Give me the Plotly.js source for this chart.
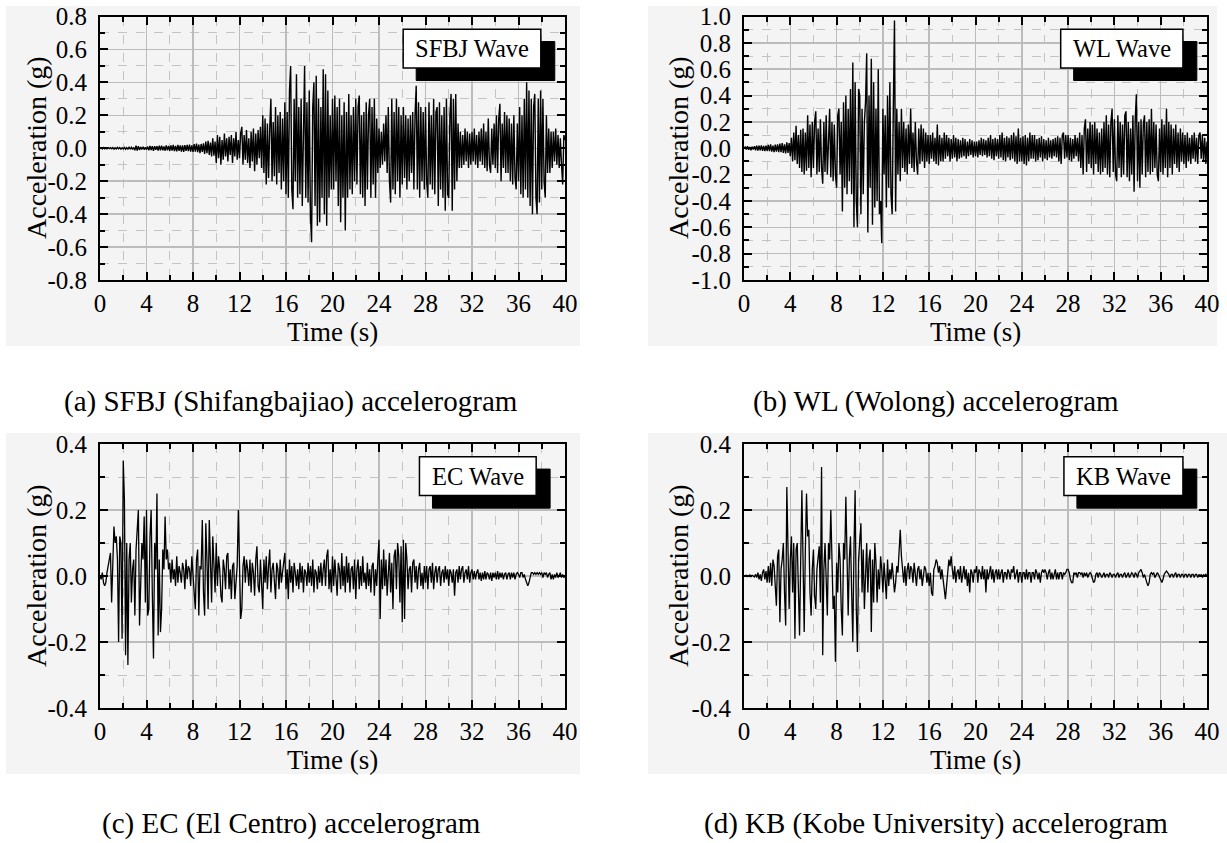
<!DOCTYPE html>
<html>
<head>
<meta charset="utf-8">
<script src="https://cdn.plot.ly/plotly-3.0.1.min.js"></script>
<style>html,body{margin:0;padding:0;background:#fff;}#chart{width:1227px;height:843px;}</style>
</head>
<body>
<div id="chart"></div>
<script>
// Sampling interval of the read-off accelerograms (s)
const dt = 0.1;

// (a) SFBJ (Shifangbajiao) acceleration, g — one row per second
const sfbj = [
0,.003,-.004,.004,-.003,.002,-.004,.003,-.002,.004,
-.003,.004,-.005,.003,-.004,.005,-.003,.004,-.005,.003,
-.004,.005,-.006,.004,-.005,.006,-.004,.006,-.007,.005,
-.012,.015,-.014,.012,-.01,.008,-.007,.009,-.008,.006,
-.008,.01,-.012,.014,-.011,.012,-.015,.013,-.01,.012,
-.014,.016,-.012,.015,-.013,.011,-.015,.017,-.013,.014,
-.016,.018,-.015,.02,-.017,.015,-.019,.021,-.016,.018,
-.02,.017,-.022,.019,-.016,.02,-.018,.022,-.02,.017,
-.022,.025,-.02,.028,-.024,.022,-.03,.026,-.022,.03,
-.035,.04,-.03,.045,-.04,.035,-.05,.06,-.045,.04,
-.09,.08,-.06,.07,-.1,.05,-.07,.09,-.05,.06,
-.08,.07,-.04,.08,-.09,.06,-.05,.1,-.07,.05,
-.06,.09,.13,-.1,.08,-.07,.11,-.09,.06,-.12,
.1,-.08,.12,-.14,.09,-.1,.11,-.06,.13,-.12,
.2,-.15,.18,-.22,.15,-.18,.12,.3,-.2,.16,
-.17,.25,-.22,.2,-.15,.22,-.25,.18,-.2,.28,
-.28,.22,-.3,.35,.5,-.25,-.37,.3,-.2,.45,
-.3,.25,-.28,.3,-.35,.22,.5,-.3,.28,-.33,
.35,-.4,-.57,.25,.4,-.35,.44,-.47,.3,-.45,
.25,-.3,.48,-.4,.45,-.47,.35,-.3,.2,-.25,
.3,-.25,.32,-.2,.25,-.35,.3,-.45,.2,-.3,
.28,-.5,.22,-.3,.33,-.25,.2,-.28,.25,-.2,
.3,-.22,.25,.32,-.28,.2,-.3,.22,-.35,.28,
-.25,.2,.3,-.3,.25,-.22,.3,-.3,.18,-.15,
.12,-.12,.1,-.1,.15,-.08,.2,-.15,.25,-.2,
-.33,.3,-.25,.22,-.28,.3,-.2,.25,-.3,.2,
-.22,.25,-.18,.2,-.25,.18,-.2,.2,-.15,.22,
-.25,.2,.38,-.25,.28,-.3,.25,-.2,.22,-.25,
.25,-.2,-.3,.28,-.22,.2,-.25,.3,-.28,.22,
.25,-.35,.28,-.25,.2,-.3,.25,-.38,.3,-.28,
-.3,.2,.33,-.38,.3,-.25,.33,-.2,.15,-.12,
.1,-.12,.08,-.1,.12,-.08,.1,-.12,.09,-.1,
.1,-.08,.12,-.1,.08,-.12,.1,-.08,.12,-.1,
.15,-.12,.1,-.14,.18,-.1,-.15,.12,-.1,.15,
-.12,.2,-.15,.18,.27,-.2,.15,-.12,.22,-.15,
.2,-.15,.18,-.2,.15,-.22,.2,-.18,-.25,.15,
-.2,.25,-.28,.2,-.3,.3,-.25,.4,-.3,.35,
-.35,.3,-.4,.25,.33,-.3,-.4,.3,-.33,.35,
-.25,.3,-.2,-.3,.2,-.15,.12,-.15,.1,-.12,
.1,-.08,.12,-.1,.08,-.12,.06,-.1,-.22,.08,
.05];

// (b) WL (Wolong) acceleration, g
const wl = [
0,.01,-.01,.015,-.012,.01,-.015,.012,-.01,.015,
-.015,.02,-.018,.02,-.015,.022,-.02,.018,-.022,.02,
-.02,.025,-.022,.03,-.025,.02,-.03,.028,-.025,.03,
-.03,.035,-.03,.04,-.035,.03,-.04,.045,-.035,.04,
-.06,.08,-.1,.12,-.09,.17,-.12,.1,-.15,.14,
-.18,.15,-.2,.12,-.17,.25,-.15,.18,-.22,.2,
-.15,.2,.28,-.2,.15,-.18,.22,-.15,-.27,.2,
-.18,.25,-.2,.15,.3,-.22,.2,-.25,.18,-.2,
-.3,.25,.3,-.2,.2,-.48,.35,-.3,.4,-.35,
.3,-.25,.45,-.35,.65,-.6,.5,-.4,-.6,.45,
.4,-.5,.3,-.35,.2,.35,.72,-.64,.4,-.3,
.68,-.58,.5,-.45,.3,-.4,.6,-.5,-.4,-.72,
.3,-.2,.25,-.45,.4,-.3,.5,-.35,-.5,.3,
.97,-.48,.3,-.2,.2,-.25,.3,-.15,.2,-.18,
.15,-.2,.18,-.12,.3,-.15,.12,-.18,.2,-.1,
-.2,.15,-.12,.18,-.1,.15,-.15,.12,-.1,.1,
-.12,.1,-.08,.12,-.1,.08,-.12,.18,-.13,.1,
-.1,.08,-.1,.12,-.08,.1,-.06,.08,-.1,.07,
-.08,.1,-.07,.08,-.1,.07,-.08,.06,-.07,.08,
-.06,.07,-.08,.05,-.06,.07,-.05,.06,-.07,.05,
-.06,.05,-.07,.06,-.05,.08,-.06,.07,-.05,.06,
-.07,.08,-.06,.1,-.08,.07,-.09,.08,-.06,.07,
-.08,.1,-.07,.12,-.09,.08,-.1,.09,-.07,.08,
-.09,.1,-.08,.12,-.1,.09,-.12,.15,-.1,.08,
-.1,.09,-.12,.1,-.13,.08,-.1,.12,-.08,.1,
-.08,.1,-.1,.07,-.09,.08,-.07,.09,-.1,.07,
-.08,.06,-.09,.08,-.07,.06,-.08,.07,-.06,.08,
-.07,.09,-.1,.08,-.12,.1,.12,-.08,.1,-.07,
.1,-.09,.08,-.1,.07,-.08,.1,-.06,.08,-.1,
.12,-.15,.1,-.2,.15,.22,-.18,.15,-.12,.2,
-.15,.18,-.2,.2,-.12,.15,-.18,.12,-.2,.15,
-.18,.2,-.15,.25,-.2,.18,-.22,.2,.3,-.18,
.22,-.2,-.25,.25,-.15,.2,-.22,.18,-.2,.25,
.28,-.22,.2,-.25,.15,-.2,.25,-.33,.22,.41,
-.25,.2,-.3,.22,-.2,.18,.25,-.22,.2,-.18,
.22,-.2,.3,-.18,.2,-.15,.18,-.2,-.25,.15,
-.18,.22,-.2,.18,-.15,.3,-.22,.2,-.15,.18,
-.2,.15,-.12,.18,-.15,.12,-.18,.15,-.1,.12,
-.12,.1,-.15,.12,-.1,.08,-.12,.1,-.08,.12,
-.1,.08,-.12,.1,.12,-.08,.1,-.1,.08,-.12,
.05];

// (c) EC (El Centro) acceleration, g
const ec = [
0,-.01,.01,-.02,-.03,-.02,.01,.03,.06,.07,
-.08,.04,.15,.1,.12,.05,-.2,.12,.1,-.19,
.35,.23,-.24,.1,-.27,.05,.1,-.08,.02,.05,
-.12,.08,.15,.2,-.15,-.05,.1,.05,.18,-.08,
.2,-.12,-.1,.12,.2,-.05,-.25,.1,.02,.25,
-.18,.05,-.17,-.1,.08,.02,.18,.05,.08,.02,
.04,-.02,.05,-.01,.02,-.03,.06,-.02,.03,.01,
-.02,.04,.02,-.04,.05,-.01,.03,.02,-.03,.06,
-.02,-.05,-.1,.05,.08,-.12,.03,.02,.17,-.05,
-.12,.16,.05,-.1,.17,.06,-.08,.12,.03,-.05,
.1,-.03,.06,.02,-.06,-.08,.05,.02,-.04,.06,
.07,-.04,.02,-.07,.03,.04,-.07,-.02,.03,.2,
.05,-.13,-.1,.03,.06,-.02,.05,.02,-.03,.05,
-.05,.04,.01,-.06,.05,.09,-.03,-.05,.05,-.02,
-.1,.05,-.02,.06,-.04,.03,.08,-.05,.02,.04,
-.03,-.07,.04,.02,-.04,.05,-.02,.01,.04,.07,
-.04,.02,-.07,.05,-.02,.03,-.05,.04,.01,-.03,
.02,-.04,.04,-.02,.03,-.05,.02,.01,-.03,.04,
-.02,.03,-.03,.05,-.05,.02,.01,-.04,.03,-.02,
.04,-.03,.02,.05,-.03,.06,.08,-.04,.02,-.05,
.06,-.03,.05,-.02,-.06,.04,.02,-.04,.07,-.03,
.03,-.05,.06,-.02,.04,-.05,.02,.03,-.04,.05,
-.07,.02,.05,-.04,.03,-.03,.06,-.02,.01,-.04,
.04,-.03,.02,-.05,.03,.04,-.06,.02,-.03,.05,
.11,-.13,.05,-.04,.08,-.03,.05,-.06,.02,.07,
-.05,.04,-.1,.06,.08,-.04,.1,.06,-.08,.09,
-.14,.11,-.13,.1,.05,-.04,.02,.03,-.05,.04,
.05,-.02,.03,-.04,.02,.04,-.03,.01,-.04,.03,
-.02,.03,-.04,.02,.03,-.02,.04,-.04,.01,.03,
-.02,.02,.03,-.03,.01,.02,-.02,.03,-.01,.02,
-.03,.02,.01,-.02,.02,-.06,.01,.02,-.02,.03,
-.01,.02,.03,-.02,.01,.02,-.01,.03,-.02,.01,
.02,-.01,.015,-.01,.01,.02,-.01,.01,-.015,.01,
-.01,.015,-.01,.01,.005,-.01,.01,-.015,.01,-.005,
.01,-.01,.015,-.01,.01,-.005,.01,-.01,.005,.01,
-.01,.005,.01,-.01,.01,-.005,.01,-.01,.005,.01,
.005,-.005,.01,.01,-.005,.005,-.01,-.02,-.03,-.02,
-.005,.01,.01,.005,.01,.005,.01,.005,.01,.005,
.01,-.005,.01,.005,.01,-.005,.005,.01,-.01,.005,
-.01,.005,-.005,.01,-.005,.005,.01,-.005,.005,-.005,
0];

// (d) KB (Kobe University) acceleration, g
const kb = [
0,0,.002,-.002,0,.003,-.002,.002,0,-.003,
.005,-.005,.01,-.01,.005,-.015,.01,.02,-.01,.015,
-.02,.03,-.02,.04,-.03,.05,.03,-.05,-.09,.06,
.08,-.14,.02,.05,.1,-.05,-.15,.27,.03,-.1,
.05,.12,-.05,.1,-.19,.08,.1,-.06,-.18,.05,
.26,.05,-.17,.08,.25,.12,.14,-.05,-.12,.02,
.08,-.06,-.1,.02,.06,.09,-.08,.33,-.24,.02,
.1,-.03,-.12,.1,.05,.2,.02,-.1,-.06,-.26,
.04,-.05,.1,.05,-.1,-.18,.1,.05,.24,.02,
-.12,.05,.12,-.05,-.2,.08,.26,-.1,-.23,.05,
.1,.16,-.05,.08,-.1,.02,.1,-.05,.05,.08,
-.17,.05,-.08,.1,.04,-.08,.02,-.04,.06,.02,
-.05,.04,-.02,-.07,.05,-.03,.02,-.01,.04,-.02,
-.05,-.02,.03,.01,.06,.14,.06,.02,-.02,.03,
-.03,.02,.04,-.01,.03,.02,-.02,.04,.01,-.03,
.02,.03,-.01,.02,-.03,.01,.03,.02,-.02,.01,
-.03,.01,-.05,-.06,.02,.03,.05,.04,.01,.03,
-.01,.02,-.02,-.04,-.07,-.03,.02,.05,.03,.06,
.02,-.01,.03,-.02,.01,.02,-.01,.03,-.02,.01,
.03,-.01,.02,-.03,.01,-.05,.02,.01,-.02,.02,
.01,.03,-.02,.02,.01,-.01,.03,-.01,.02,-.05,
.02,-.01,.01,.03,-.01,.02,-.02,.01,.02,-.01,
.02,-.01,.01,.02,-.02,.01,.01,-.01,.02,.01,
-.01,.02,.01,.03,-.01,.01,.02,-.02,.01,.01,
-.02,.01,.01,-.01,.02,-.01,.01,.01,-.02,.01,
.01,-.01,.02,.01,-.01,.01,-.02,.01,.02,.01,
.02,.01,-.01,.01,.02,-.01,.01,-.01,.01,.02,
-.01,.01,-.01,.01,.01,-.01,.01,.005,.01,.02,
.02,.01,-.01,-.02,-.02,.01,.005,.01,-.005,.01,
.01,.005,.01,-.005,.01,0,.01,-.005,.005,.01,
.005,-.01,-.02,-.015,.005,.01,-.005,.01,.005,-.005,
.005,.01,-.005,.005,.005,-.005,.01,.005,-.005,.005,
.005,-.005,.005,.01,-.005,.005,.005,-.005,.005,.01,
-.005,.005,.01,-.005,.005,.01,.005,-.005,.01,.005,
-.005,.01,.015,.02,.01,-.005,.005,-.01,-.02,-.03,
-.02,.005,.01,.005,.01,-.005,.005,.01,.005,-.005,
-.01,-.02,-.01,.005,.01,.015,.01,.005,-.005,.005,
.005,-.005,.005,.01,-.005,.005,.005,-.005,.005,.005,
-.005,.005,.005,-.005,.005,.005,-.005,.005,.005,-.005,
.005,.005,-.005,.005,0,.005,-.005,.005,0,.005,
0];

// Labels
const waveNames = ["SFBJ Wave", "WL Wave", "EC Wave", "KB Wave"];
const captions = ["(a) SFBJ (Shifangbajiao) accelerogram", "(b) WL (Wolong) accelerogram",
                  "(c) EC (El Centro) accelerogram", "(d) KB (Kobe University) accelerogram"];
const xTickVals = [0, 4, 8, 12, 16, 20, 24, 28, 32, 36, 40];
const xTickText = ["0","4","8","12","16","20","24","28","32","36","40"];
const yTickValsA = [-0.8,-0.6,-0.4,-0.2,0,0.2,0.4,0.6,0.8];
const yTickTextA = ["-0.8","-0.6","-0.4","-0.2","0.0","0.2","0.4","0.6","0.8"];
const yTickValsB = [-1,-0.8,-0.6,-0.4,-0.2,0,0.2,0.4,0.6,0.8,1];
const yTickTextB = ["-1.0","-0.8","-0.6","-0.4","-0.2","0.0","0.2","0.4","0.6","0.8","1.0"];
const yTickValsC = [-0.4,-0.2,0,0.2,0.4];
const yTickTextC = ["-0.4","-0.2","0.0","0.2","0.4"];

const series = [sfbj, wl, ec, kb];
const W = 1227, H = 843;
const FONT = "Liberation Serif, Times New Roman, serif";

function timeOf(arr){ return arr.map((_, i) => +(i*dt).toFixed(2)); }

const traces = series.map((s, k) => ({
  type: "scatter", mode: "lines",
  x: timeOf(s), y: s,
  xaxis: k === 0 ? "x" : "x" + (k+1),
  yaxis: k === 0 ? "y" : "y" + (k+1),
  line: {color: "#000", width: k < 2 ? 1.4 : 1.3},
  hoverinfo: "skip", showlegend: false
}));

// pixel geometry of plot areas [left, right, top, bottom]
const boxes = [[100,565,16.5,280],[744,1207,16.5,280],[100,565,444,708],[744,1207,444,708]];

function xAxis(b){
  return {
    domain: [b[0]/W, b[1]/W], range: [0, 40],
    tickvals: xTickVals, ticktext: xTickText,
    ticks: "inside", ticklen: 8, tickwidth: 2, tickcolor: "#000",
    showline: true, linecolor: "#000", linewidth: 2, mirror: "allticks",
    showgrid: true, gridcolor: "#bcbcbc", gridwidth: 1.5, zeroline: false,
    tickfont: {family: FONT, size: 25, color: "#000"},
    ticklabelstandoff: 0,
    minor: {dtick: 2, tick0: 0, ticks: "inside", ticklen: 5, tickwidth: 2, tickcolor: "#000",
            showgrid: true, gridcolor: "#c4c4c4", gridwidth: 1, griddash: "dash"},
    fixedrange: true
  };
}
function yAxis(b, xa, range, tv, tt){
  return {
    domain: [1 - b[3]/H, 1 - b[2]/H], range: range, anchor: xa,
    tickvals: tv, ticktext: tt,
    ticks: "inside", ticklen: 8, tickwidth: 2, tickcolor: "#000",
    showline: true, linecolor: "#000", linewidth: 2, mirror: "allticks",
    showgrid: true, gridcolor: "#bcbcbc", gridwidth: 1.5, zeroline: false,
    tickfont: {family: FONT, size: 25, color: "#000"},
    ticklabelstandoff: 6,
    minor: {dtick: 0.1, tick0: 0, ticks: "inside", ticklen: 5, tickwidth: 2, tickcolor: "#000",
            showgrid: true, gridcolor: "#c4c4c4", gridwidth: 1, griddash: "dash"},
    fixedrange: true
  };
}

const layout = {
  width: W, height: H, margin: {l:0, r:0, t:0, b:0},
  paper_bgcolor: "#ffffff", plot_bgcolor: "#f4f4f4",
  showlegend: false,
  xaxis: Object.assign(xAxis(boxes[0]), {anchor: "y"}),
  yaxis: yAxis(boxes[0], "x", [-0.8, 0.8], yTickValsA, yTickTextA),
  xaxis2: Object.assign(xAxis(boxes[1]), {anchor: "y2"}),
  yaxis2: yAxis(boxes[1], "x2", [-1, 1], yTickValsB, yTickTextB),
  xaxis3: Object.assign(xAxis(boxes[2]), {anchor: "y3"}),
  yaxis3: yAxis(boxes[2], "x3", [-0.4, 0.4], yTickValsC, yTickTextC),
  xaxis4: Object.assign(xAxis(boxes[3]), {anchor: "y4"}),
  yaxis4: yAxis(boxes[3], "x4", [-0.4, 0.4], yTickValsC, yTickTextC),
  shapes: [], annotations: []
};

// light grey panel backgrounds (paper px)
const panels = [[6,580,6,346],[648,1217,6,346],[6,580,433,774],[648,1227,433,774]];
panels.forEach(p => layout.shapes.push({
  type: "rect", xref: "paper", yref: "paper", layer: "below",
  x0: p[0]/W, x1: p[1]/W, y0: 1 - p[3]/H, y1: 1 - p[2]/H,
  fillcolor: "#f4f4f4", line: {width: 0}
}));

// wave label boxes with drop shadow (axis-domain fractions)
const labelBoxes = [[0.652,0.948],[0.684,0.948],[0.687,0.938],[0.691,0.948]];
labelBoxes.forEach((lb, k) => {
  const xr = k === 0 ? "x domain" : "x" + (k+1) + " domain";
  const yr = k === 0 ? "y domain" : "y" + (k+1) + " domain";
  const sx = 0.028;
  layout.shapes.push({type: "rect", xref: xr, yref: yr, x0: lb[0]+sx, x1: lb[1]+sx+0.002, y0: 0.757, y1: 0.905,
    fillcolor: "#000", line: {color: "#000", width: 1}});
  layout.shapes.push({type: "rect", xref: xr, yref: yr, x0: lb[0], x1: lb[1], y0: 0.805, y1: 0.952,
    fillcolor: "#fff", line: {color: "#000", width: 1.5}});
  layout.annotations.push({xref: xr, yref: yr, x: (lb[0]+lb[1])/2, y: 0.878, text: waveNames[k],
    showarrow: false, xanchor: "center", yanchor: "middle",
    font: {family: FONT, size: 24.5, color: "#000"}});
});

// axis titles and captions (paper px)
const centers = [[332,148,36,332,291,401],[975,148,678,332,936,401],[332,576,36,760,291,823],[975,576,678,760,936,823]];
centers.forEach((c, k) => {
  layout.annotations.push({xref: "paper", yref: "paper", x: c[0]/W, y: 1 - c[3]/H, text: "Time (s)",
    showarrow: false, xanchor: "center", yanchor: "middle", font: {family: FONT, size: 27, color: "#000"}});
  layout.annotations.push({xref: "paper", yref: "paper", x: c[2]/W, y: 1 - c[1]/H, text: "Acceleration (g)",
    textangle: -90, showarrow: false, xanchor: "center", yanchor: "middle", font: {family: FONT, size: 28, color: "#000"}});
  layout.annotations.push({xref: "paper", yref: "paper", x: c[4]/W, y: 1 - c[5]/H, text: captions[k],
    showarrow: false, xanchor: "center", yanchor: "middle", font: {family: FONT, size: 29, color: "#000"}});
});

Plotly.newPlot("chart", traces, layout, {displayModeBar: false, staticPlot: true});
</script>
</body>
</html>
